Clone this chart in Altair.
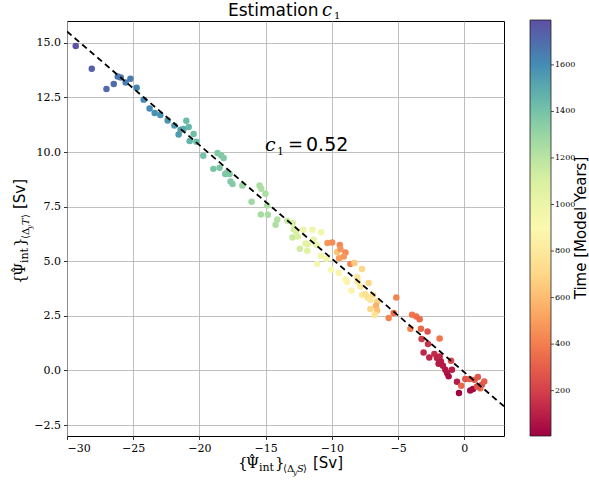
import altair as alt
import pandas as pd

# Integrated overturning anomalies: salinity-driven (x) vs temperature-driven (y), in Sv
psi_s = [
    -29.34, -28.13, -27.02, -26.47, -26.17, -25.94, -25.57, -25.21, -24.74, -24.21,
    -23.76, -23.38, -22.95, -22.40, -21.89, -21.57, -21.42, -21.19, -20.99, -20.81,
    -20.44, -20.74, -20.23, -19.71, -18.95, -18.63, -18.35, -18.17, -18.48, -18.05,
    -17.90, -17.72, -17.65, -17.50, -16.76, -16.06, -15.46, -15.33, -15.01, -14.88,
    -15.36, -14.83, -14.12, -14.25, -13.37, -12.95, -12.87, -12.72, -12.97, -12.57,
    -12.16, -11.46, -10.81, -12.42, -11.99, -11.82, -11.37, -11.16, -11.86, -10.84,
    -11.11, -10.41, -10.33, -9.98, -9.40, -9.60, -9.35, -8.97, -9.45, -9.10,
    -8.60, -8.30, -7.72, -10.05, -9.48, -8.97, -8.85, -8.52, -8.09, -8.05,
    -7.84, -7.22, -7.72, -7.47, -7.29, -6.89, -7.09, -6.58, -6.66, -7.09,
    -6.58, -6.76, -5.71, -5.33, -5.13, -3.94, -3.62, -3.37, -4.07, -3.27,
    -2.77, -1.86, -3.22, -2.74, -3.07, -2.64, -2.26, -2.06, -1.86, -1.76,
    -1.94, -1.61, -1.43, -1.30, -1.18, -0.93, -1.00, -0.55, -0.40, -0.23,
    0.08, 0.40, 0.78, 1.03, 1.33, 1.21, 0.45, 0.66, 0.96, 1.51,
]
psi_t = [
    14.86, 13.81, 12.89, 13.12, 13.46, 13.41, 13.18, 13.36, 12.94, 12.40,
    11.99, 11.79, 11.70, 11.44, 11.21, 10.80, 11.02, 11.06, 11.43, 11.15,
    10.83, 10.51, 10.47, 9.83, 9.23, 9.96, 9.84, 9.73, 9.28, 9.00,
    9.06, 9.00, 8.65, 8.54, 8.47, 7.72, 8.47, 8.32, 8.09, 7.55,
    7.14, 7.13, 6.91, 6.67, 6.85, 6.75, 6.47, 6.38, 6.09, 6.13,
    6.44, 6.44, 6.33, 5.57, 5.81, 5.78, 5.98, 5.74, 5.48, 5.25,
    4.87, 5.11, 5.84, 5.86, 5.74, 5.42, 5.56, 5.40, 5.14, 5.22,
    4.88, 4.92, 4.65, 4.61, 4.46, 4.18, 4.05, 3.66, 4.27, 4.07,
    3.84, 4.00, 3.46, 3.50, 3.34, 3.46, 3.24, 3.16, 2.96, 2.81,
    2.75, 2.55, 2.40, 2.63, 3.34, 2.55, 2.47, 2.35, 1.91, 1.91,
    1.78, 1.46, 1.44, 1.21, 0.82, 0.59, 0.76, 0.57, 0.64, 0.41,
    0.31, 0.22, 0.03, -0.12, -0.27, 0.03, 0.44, -0.52, -1.03, -0.70,
    -0.39, -0.39, -0.43, -0.30, -0.65, -0.81, -0.92, -0.85, -0.73, -0.50,
]
# Model time of each sample, in years
years = [
    1785, 1740, 1715, 1700, 1680, 1660, 1640, 1650, 1620, 1610,
    1600, 1590, 1580, 1570, 1560, 1550, 1540, 1500, 1440, 1450,
    1420, 1470, 1430, 1400, 1390, 1370, 1365, 1360, 1380, 1385,
    1375, 1370, 1360, 1355, 1300, 1280, 1250, 1245, 1250, 1255,
    1265, 1260, 1230, 1240, 1150, 1120, 1130, 1110, 1150, 1100,
    1000, 980, 960, 1130, 1060, 1050, 1040, 1020, 1070, 960,
    930, 950, 480, 450, 430, 620, 470, 440, 500, 480,
    420, 650, 700, 900, 880, 890, 870, 880, 760, 780,
    800, 700, 820, 760, 740, 720, 780, 680, 560, 700,
    620, 760, 420, 350, 420, 380, 360, 340, 420, 330,
    260, 380, 180, 160, 120, 110, 130, 100, 120, 90,
    80, 85, 70, 60, 40, 90, 230, 90, 15, 330,
    270, 300, 290, 280, 250, 330, 30, 35, 270, 300,
]

# Regression estimate
c1 = 0.52
intercept = -0.08
fit_x = [-30.0, 3.0]
fit_y = [-c1 * v + intercept for v in fit_x]

x_ticks = [-30, -25, -20, -15, -10, -5, 0]
y_ticks = [-2.5, 0.0, 2.5, 5.0, 7.5, 10.0, 12.5, 15.0]
time_ticks = [200, 400, 600, 800, 1000, 1200, 1400, 1600]
time_domain = [5, 1793]

pts = pd.DataFrame({"x": psi_s, "y": psi_t, "t": years})
fit = pd.DataFrame({"x": fit_x, "y": fit_y})
cbar_ticks = pd.DataFrame({"t": time_ticks})

LEFT, TOP = 67, 21
W, H = 437, 415
SANS = "DejaVu Sans"
SERIF = "DejaVu Serif"

# colour bar geometry, relative to the plot origin
CB_X, CB_Y, CB_W, CB_LEN = 463, -1, 21, 416

xs = alt.Scale(domain=[-30, 3], nice=False, zero=False)
ys = alt.Scale(domain=[-3, 16], nice=False, zero=False)
x_axis = alt.Axis(values=x_ticks, format="d", title=None)
y_axis = alt.Axis(values=y_ticks, format=".1f", title=None)

points = alt.Chart(pts).mark_circle(size=42, opacity=1).encode(
    x=alt.X("x:Q", scale=xs, axis=x_axis),
    y=alt.Y("y:Q", scale=ys, axis=y_axis),
    color=alt.Color(
        "t:Q",
        scale=alt.Scale(scheme="spectral", domain=time_domain),
        legend=alt.Legend(
            orient="none", legendX=CB_X, legendY=CB_Y, direction="vertical",
            gradientLength=CB_LEN, gradientThickness=CB_W, title=None,
            values=time_ticks, format="d", labelFont=SERIF, labelFontSize=8,
            labelOffset=4, labelOverlap=False, labelColor="black",
            gradientStrokeColor="#222222", gradientStrokeWidth=0.8, padding=0,
        ),
    ),
)

line = alt.Chart(fit).mark_line(
    color="black", strokeDash=[6, 4], strokeWidth=1.8, clip=True
).encode(
    x=alt.X("x:Q", scale=xs),
    y=alt.Y("y:Q", scale=ys, axis=None),
)

# small tick marks on the right edge of the colour bar
cbar_tick_marks = alt.Chart(cbar_ticks).mark_rule(color="#222222", strokeWidth=0.8).encode(
    x=alt.value(CB_X + CB_W),
    x2=alt.value(CB_X + CB_W + 3),
    y=alt.Y(
        "t:Q",
        scale=alt.Scale(domain=time_domain, range=[CB_Y + CB_LEN, CB_Y], nice=False, zero=False),
        axis=None,
    ),
)

anchor = pd.DataFrame({"k": [0]})


def txt(s, px, py, size, font, style="normal", angle=0, align="left"):
    """Text placed at absolute page pixel coordinates."""
    return alt.Chart(anchor).mark_text(
        text=s, fontSize=size, font=font, fontStyle=style, angle=angle,
        align=align, baseline="alphabetic", color="black",
    ).encode(x=alt.value(px - LEFT), y=alt.value(py - TOP))


labels = [
    # title
    txt("Estimation", 228, 16, 17, SANS),
    txt("c", 322, 16, 18, SERIF, "italic"),
    txt("1", 334, 19, 10, SERIF),
    # annotation
    txt("c", 265, 151, 19, SERIF, "italic"),
    txt("1", 277, 155, 11, SERIF),
    txt("=", 288, 151, 18, SERIF),
    txt("0.52", 306, 151, 19, SANS),
    # x axis title
    txt("{", 238, 468, 15, SERIF),
    txt("Ψ", 246, 468, 15, SERIF),
    txt("ˆ", 252, 466, 14, SERIF, align="center"),
    txt("int", 259, 471, 11, SERIF),
    txt("}", 275, 468, 15, SERIF),
    txt("⟨Δ", 283, 472, 10, SERIF),
    txt("y", 293, 475, 7, SERIF, "italic"),
    txt("S", 297, 472, 10, SERIF, "italic"),
    txt("⟩", 303, 472, 10, SERIF),
    txt("[Sv]", 313, 468, 15, SANS),
    # y axis title (rotated, reading upwards)
    txt("{", 25, 284, 15, SERIF, angle=270),
    txt("Ψ", 25, 276, 15, SERIF, angle=270),
    txt("ˆ", 23, 270, 14, SERIF, angle=270, align="center"),
    txt("int", 28, 263, 11, SERIF, angle=270),
    txt("}", 25, 247, 15, SERIF, angle=270),
    txt("⟨Δ", 29, 239, 10, SERIF, angle=270),
    txt("y", 32, 229, 7, SERIF, "italic", angle=270),
    txt("T", 29, 225, 10, SERIF, "italic", angle=270),
    txt("⟩", 29, 218, 10, SERIF, angle=270),
    txt("[Sv]", 25, 209, 15, SANS, angle=270),
    # colour bar title
    txt("Time [Model Years]", 586, 228, 15, SANS, angle=270, align="center"),
]

chart = alt.layer(points, line, cbar_tick_marks, *labels).resolve_scale(
    y="independent"
).properties(
    width=W, height=H,
    padding={"left": LEFT, "top": TOP, "right": 589 - LEFT - W, "bottom": 486 - TOP - H},
    autosize=alt.AutoSizeParams(type="none"),
    background="white",
).configure_view(
    stroke="black", strokeWidth=1
).configure_axis(
    domain=False, grid=True, gridColor="#b0b0b0", gridWidth=0.8,
    ticks=True, tickColor="black", tickSize=3.5, tickWidth=0.8,
    labelFont=SERIF, labelFontSize=11, labelColor="black", labelPadding=3,
)

chart.save("out.html", embed_options={"renderer": "svg", "actions": False})
